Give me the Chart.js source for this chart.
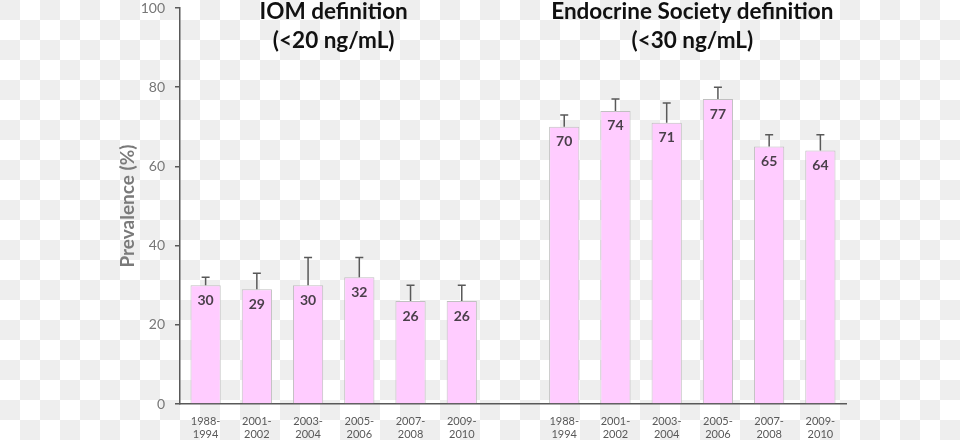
<!DOCTYPE html>
<html>
<head>
<meta charset="utf-8">
<script src="https://cdn.jsdelivr.net/npm/chart.js@4.4.0/dist/chart.umd.min.js"></script>
<style>
	html, body { margin: 0; padding: 0; }
	body {
		width: 960px; height: 440px;
		background-color: #ffffff;
		background-image: conic-gradient(transparent 25%, #eeeeee 0 50%, transparent 0 75%, #eeeeee 0);
		background-size: 40px 40px;
	}
	#wrap { width: 960px; height: 440px; position: relative; }
</style>
</head>
<body>
<div id="wrap"><canvas id="myChart"></canvas></div>
<script>
!(function(){
	'use strict';

	// 13 slots: 6 IOM periods, one empty spacer, 6 Endocrine Society periods
	var periods = [['1988-','1994'],['2001-','2002'],['2003-','2004'],['2005-','2006'],['2007-','2008'],['2009-','2010']];
	var labels = periods.concat([['']], periods);

	var iomValues = [30, 29, 30, 32, 26, 26];
	var iomUpper = [32, 33, 37, 37, 30, 30];
	var endoValues = [70, 74, 71, 77, 65, 64];
	var endoUpper = [73, 77, 76, 80, 68, 68];

	var values = iomValues.concat([null], endoValues);
	var upper = iomUpper.concat([null], endoUpper);

	var yTicks = [0, 20, 40, 60, 80, 100];

	var groupTitles = [
		{ at: 2.5, lines: ['IOM definition', '(<20 ng/mL)'] },
		{ at: 9.5, lines: ['Endocrine Society definition', '(<30 ng/mL)'] }
	];

	var axisColor = '#595959';
	var fontFamily = 'Lato, "Open Sans", sans-serif';

	// error bars, value labels and group headings
	var extras = {
		id: 'extras',
		afterDatasetsDraw: function(chart){
			var ctx = chart.ctx;
			var x = chart.scales.x, y = chart.scales.y;
			var meta = chart.getDatasetMeta(0);

			ctx.save();
			ctx.strokeStyle = axisColor;
			ctx.lineWidth = 1.5;
			for (var i = 0; i < values.length; i++) {
				if (values[i] == null) continue;
				var bar = meta.data[i];
				var yTop = y.getPixelForValue(upper[i]);
				ctx.beginPath();
				ctx.moveTo(bar.x, bar.y);
				ctx.lineTo(bar.x, yTop);
				ctx.moveTo(bar.x - 4, yTop);
				ctx.lineTo(bar.x + 4, yTop);
				ctx.stroke();
			}

			ctx.fillStyle = '#4a3f4a';
			ctx.font = 'bold 14px ' + fontFamily;
			ctx.textAlign = 'center';
			ctx.textBaseline = 'middle';
			for (var i = 0; i < values.length; i++) {
				if (values[i] == null) continue;
				var bar = meta.data[i];
				ctx.fillText(String(values[i]), bar.x, bar.y + 15);
			}

			ctx.fillStyle = '#111111';
			ctx.font = 'bold 22.5px ' + fontFamily;
			groupTitles.forEach(function(g){
				var cx = x.getPixelForValue(g.at);
				ctx.fillText(g.lines[0], cx, 12);
				ctx.fillText(g.lines[1], cx, 41);
			});
			ctx.restore();
		}
	};

	var ctx = document.getElementById('myChart').getContext('2d');
	var myChart = new Chart(ctx, {
		type: 'bar',
		data: {
			labels: labels,
			datasets: [{
				data: values,
				backgroundColor: '#ffccff',
				borderColor: '#c0c0c0',
				borderWidth: 1,
				barPercentage: 0.59,
				categoryPercentage: 1
			}]
		},
		options: {
			responsive: true,
			maintainAspectRatio: false,
			animation: false,
			layout: { padding: { left: 116, right: 114, top: 0, bottom: 0 } },
			plugins: {
				legend: { display: false },
				tooltip: { enabled: false }
			},
			scales: {
				x: {
					grid: { display: false, drawTicks: false },
					border: { color: axisColor, width: 1.5 },
					ticks: {
						color: axisColor,
						font: { family: fontFamily, size: 11 },
						padding: 11,
						maxRotation: 0,
						autoSkip: false
					},
					afterFit: function(scale){ scale.height = 36; }
				},
				y: {
					min: 0,
					max: 100,
					afterBuildTicks: function(scale){
						scale.ticks = yTicks.map(function(v){ return { value: v }; });
					},
					grid: { drawOnChartArea: false, tickLength: 5, color: axisColor, lineWidth: 1.5 },
					border: { color: axisColor, width: 1.5 },
					ticks: {
						color: '#777777',
						font: { family: fontFamily, size: 14 },
						padding: 10
					},
					title: {
						display: true,
						text: 'Prevalence (%)',
						color: '#7a7a7a',
						font: { family: fontFamily, size: 19, weight: 'bold' },
						padding: 0
					},
					afterFit: function(scale){
						scale.width = 64;
						scale.paddingTop = 8;
						scale.paddingBottom = 8;
					}
				}
			}
		},
		plugins: [extras]
	});
})();
</script>
</body>
</html>
